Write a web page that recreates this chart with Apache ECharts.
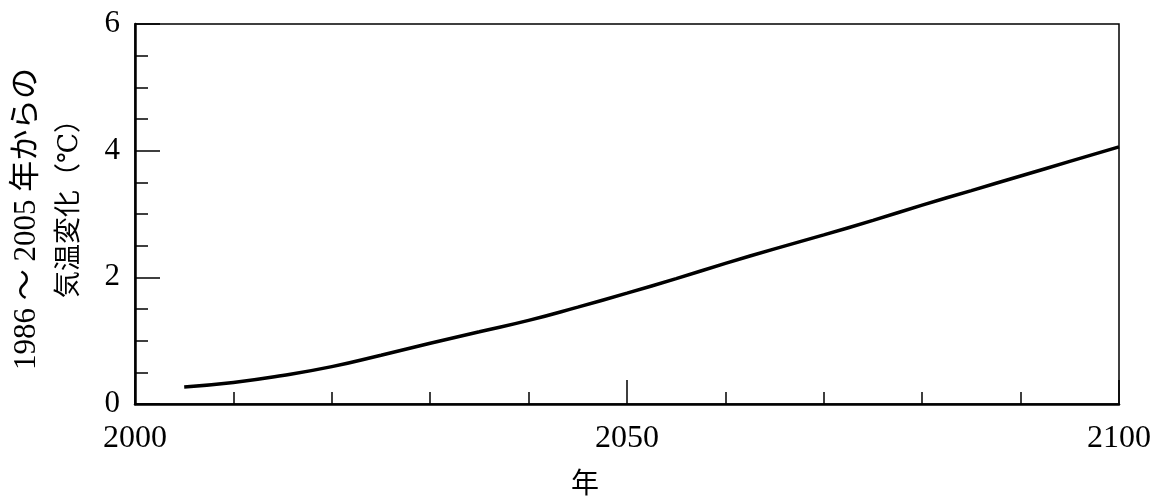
<!DOCTYPE html>
<html>
<head>
<meta charset="utf-8">
<script src="https://cdn.jsdelivr.net/npm/echarts@6/dist/echarts.min.js"></script>
<style>html,body{margin:0;padding:0;background:#fff;}#c{width:1155px;height:501px;}</style>
</head>
<body>
<div id="c"></div>
<script>
const years = [2005, 2010, 2015, 2020, 2025, 2030, 2035, 2040, 2045, 2050, 2055, 2060, 2065, 2070, 2075, 2080, 2085, 2090, 2095, 2100];
const temps = [0.27, 0.34, 0.45, 0.59, 0.77, 0.96, 1.14, 1.32, 1.53, 1.75, 1.98, 2.22, 2.45, 2.67, 2.90, 3.14, 3.37, 3.60, 3.83, 4.06];
const xTickLabels = ['2000', '2050', '2100'];
const yTickLabels = ['0', '2', '4', '6'];
const yNameLine1 = '1986 ～ 2005 年からの';
const yNameLine2 = '気温変化（℃）';
const xName = '年';

const serif = "'Liberation Serif', 'DejaVu Serif', 'Noto Sans CJK JP', serif";
const chart = echarts.init(document.getElementById('c'));
chart.setOption({
  animation: false,
  backgroundColor: '#fff',
  grid: { left: 135, right: 36, top: 24, bottom: 97, show: true, borderColor: '#000', borderWidth: 1.5, backgroundColor: 'transparent' },
  xAxis: {
    type: 'value', min: 2000, max: 2100, interval: 50,
    axisLine: { lineStyle: { color: '#000', width: 2.5 } },
    axisTick: { inside: true, length: 24, lineStyle: { color: '#000', width: 1.5 } },
    minorTick: { show: true, splitNumber: 5, length: 12, lineStyle: { color: '#000', width: 1.5 } },
    splitLine: { show: false },
    axisLabel: { color: '#000', fontFamily: serif, fontSize: 32, margin: 19,
      formatter: v => xTickLabels.includes(String(v)) ? String(v) : '' }
  },
  yAxis: {
    type: 'value', min: 0, max: 6, interval: 2,
    axisLine: { show: true, lineStyle: { color: '#000', width: 2.5 } },
    axisTick: { show: true, inside: true, length: 25, lineStyle: { color: '#000', width: 1.5 } },
    minorTick: { show: true, splitNumber: 4, length: 13, lineStyle: { color: '#000', width: 1.5 } },
    splitLine: { show: false },
    axisLabel: { color: '#000', fontFamily: serif, fontSize: 31, margin: 15,
      formatter: v => yTickLabels.includes(String(v)) ? String(v) : '' }
  },
  series: [{
    type: 'line', smooth: true, showSymbol: false,
    data: years.map((y, i) => [y, temps[i]]),
    lineStyle: { color: '#000', width: 3.5 }
  }],
  graphic: [
    { type: 'text', x: 27, y: 219, rotation: Math.PI / 2,
      style: { text: yNameLine1, fontFamily: serif, fontSize: 31, fill: '#000', textAlign: 'center', textVerticalAlign: 'middle' } },
    { type: 'text', x: 70, y: 202, rotation: Math.PI / 2,
      style: { text: yNameLine2, fontFamily: serif, fontSize: 27, fill: '#000', textAlign: 'center', textVerticalAlign: 'middle' } },
    { type: 'text', x: 585, y: 486,
      style: { text: xName, fontFamily: serif, fontSize: 28, fill: '#000', textAlign: 'center', textVerticalAlign: 'middle' } }
  ]
});
</script>
</body>
</html>
